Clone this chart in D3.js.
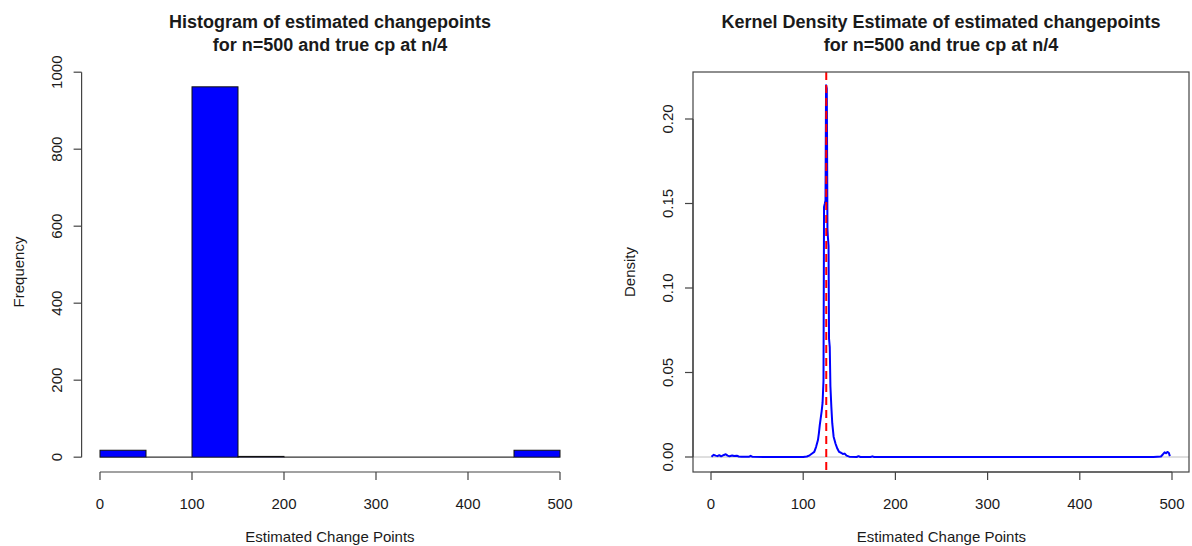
<!DOCTYPE html>
<html>
<head>
<meta charset="utf-8">
<script src="https://cdn.jsdelivr.net/npm/d3@7"></script>
<style>
  html, body { margin: 0; padding: 0; background: #ffffff; }
  svg text { font-family: "Liberation Sans", Arial, Helvetica, sans-serif; fill: #1a1a1a; }
</style>
</head>
<body>
<div id="chart"></div>
<script>
// histogram of estimated change points (bins of width 50)
var histBreaks = [0, 50, 100, 150, 200, 250, 300, 350, 400, 450, 500];
var histCounts = [18, 0, 962, 2, 0, 0, 0, 0, 0, 18];
var histYTicks = [0, 200, 400, 600, 800, 1000];
var xTicks = [0, 100, 200, 300, 400, 500];

// kernel density estimate
var densityX = [0.5, 3, 5, 7, 9, 11, 14, 16, 18, 20, 23, 25, 28, 30, 33, 38, 41, 43, 45, 60, 80, 100,
    104, 107, 110, 112, 114, 116, 117, 118, 119, 120, 121, 122, 122.6, 123.5, 124.2, 124.8, 125.6,
    126.3, 126.8, 127.5, 128, 128.8, 129.5, 130.5, 131.5, 133, 135, 137, 139, 141, 143, 145, 147, 150,
    158, 160, 162, 173, 175, 177, 200, 300, 400, 480, 488, 490, 492, 493.5, 495, 496.5, 497.7];
var densityY = [0.0002, 0.0013, 0.0008, 0.0005, 0.0011, 0.0004, 0.0012, 0.0016, 0.0008, 0.0004, 0.0009, 0.0006, 0.0008, 0.0003, 0.0002, 0.0001, 0.0001, 0.0007, 0.0001, 0, 0, 0,
    0.0003, 0.0010, 0.0022, 0.0030, 0.0060, 0.0100, 0.0140, 0.0190, 0.0230, 0.0270, 0.0320, 0.0450, 0.1480, 0.1500, 0.1520, 0.2200, 0.2180,
    0.1350, 0.1300, 0.1250, 0.0700, 0.0650, 0.0420, 0.0300, 0.0200, 0.0120, 0.0080, 0.0050, 0.0030, 0.0025, 0.0018, 0.0020, 0.0008, 0.0002,
    0, 0.0005, 0, 0, 0.0004, 0, 0, 0, 0, 0, 0.0003, 0.0015, 0.0028, 0.0022, 0.0030, 0.0025, 0.0005];
var densityYTicks = [0, 0.05, 0.10, 0.15, 0.20];
var trueCp = 125;

var width = 1192, height = 546;
var plotTop = 72, plotBottom = 472;
var tickLen = 8;

var svg = d3.select("#chart")
    .append("svg")
    .attr("width", width)
    .attr("height", height);

svg.append("rect").attr("width", width).attr("height", height).attr("fill", "#ffffff");

function drawTitle(cx, lines){
    var t = svg.append("g").attr("class", "title");
    lines.forEach(function(s, i){
        t.append("text")
            .attr("x", cx)
            .attr("y", 28 + i * 23)
            .attr("text-anchor", "middle")
            .style("font-size", "18px")
            .style("font-weight", "bold")
            .text(s);
    });
}

function drawXAxis(xScale, yPos, title){
    var g = svg.append("g").attr("class", "x-axis");
    g.append("line")
        .attr("x1", xScale(xTicks[0])).attr("x2", xScale(xTicks[xTicks.length - 1]))
        .attr("y1", yPos).attr("y2", yPos)
        .attr("stroke", "#444").attr("stroke-width", 1.2);
    g.selectAll(".xt").data(xTicks).enter().append("line")
        .attr("x1", function(d){ return xScale(d); })
        .attr("x2", function(d){ return xScale(d); })
        .attr("y1", yPos).attr("y2", yPos + tickLen)
        .attr("stroke", "#444").attr("stroke-width", 1.2);
    g.selectAll(".xl").data(xTicks).enter().append("text")
        .attr("x", function(d){ return xScale(d); })
        .attr("y", yPos + 37)
        .attr("text-anchor", "middle")
        .style("font-size", "15px")
        .text(function(d){ return d; });
    g.append("text")
        .attr("x", (xScale.range()[0] + xScale.range()[1]) / 2)
        .attr("y", 542)
        .attr("text-anchor", "middle")
        .style("font-size", "15px")
        .text(title);
}

function drawYAxis(yScale, xPos, ticks, fmt, title){
    var g = svg.append("g").attr("class", "y-axis");
    g.append("line")
        .attr("x1", xPos).attr("x2", xPos)
        .attr("y1", yScale(ticks[0])).attr("y2", yScale(ticks[ticks.length - 1]))
        .attr("stroke", "#444").attr("stroke-width", 1.2);
    g.selectAll(".yt").data(ticks).enter().append("line")
        .attr("x1", xPos - tickLen).attr("x2", xPos)
        .attr("y1", function(d){ return yScale(d); })
        .attr("y2", function(d){ return yScale(d); })
        .attr("stroke", "#444").attr("stroke-width", 1.2);
    g.selectAll(".yl").data(ticks).enter().append("text")
        .attr("transform", function(d){ return "translate(" + (xPos - 20) + "," + yScale(d) + ") rotate(-90)"; })
        .attr("text-anchor", "middle")
        .style("font-size", "15px")
        .text(fmt);
    g.append("text")
        .attr("transform", "translate(" + (xPos - 58) + "," + ((plotTop + plotBottom) / 2) + ") rotate(-90)")
        .attr("text-anchor", "middle")
        .style("font-size", "15px")
        .text(title);
}

// ---------- left: histogram ----------
var hx = d3.scaleLinear().domain([-20, 520]).range([81.6, 578.4]);
var hy = d3.scaleLinear().domain([-38.5, 1000.5]).range([plotBottom, plotTop]);

var bins = histCounts.map(function(c, i){ return {x0: histBreaks[i], x1: histBreaks[i + 1], count: c}; });

var rect_group = svg.append("g").attr("class", "rect-group");

rect_group
    .selectAll(".rects")
    .data(bins.filter(function(d){ return d.count > 0; }))
    .enter()
    .append("rect")
    .attr("class", "rects")
    .attr("x", function(d){ return hx(d.x0); })
    .attr("width", function(d){ return hx(d.x1) - hx(d.x0); })
    .attr("y", function(d){ return hy(d.count); })
    .attr("height", function(d){ return hy(0) - hy(d.count); })
    .attr("fill", "#0000ff")
    .attr("stroke", "#111")
    .attr("stroke-width", 1);

// empty bins still show their outline along the baseline
rect_group
    .selectAll(".empty")
    .data(bins.filter(function(d){ return d.count === 0; }))
    .enter()
    .append("line")
    .attr("class", "empty")
    .attr("x1", function(d){ return hx(d.x0); })
    .attr("x2", function(d){ return hx(d.x1); })
    .attr("y1", hy(0)).attr("y2", hy(0))
    .attr("stroke", "#333")
    .attr("stroke-width", 1.2);

drawTitle(330, ["Histogram of estimated changepoints", "for n=500 and true cp at n/4"]);
drawXAxis(hx, plotBottom, "Estimated Change Points");
drawYAxis(hy, 81.6, histYTicks, function(d){ return d; }, "Frequency");

// ---------- right: density ----------
var boxLeft = 693, boxRight = 1189;
var dx = d3.scaleLinear().domain([0, 500]).range([711, 1172]);
var dy = d3.scaleLinear().domain([0, 0.20]).range([457, 119]);

svg.append("defs").append("clipPath").attr("id", "clipR")
    .append("rect").attr("x", boxLeft).attr("y", plotTop)
    .attr("width", boxRight - boxLeft).attr("height", plotBottom - plotTop);

var plotG = svg.append("g").attr("clip-path", "url(#clipR)");

// zero line
plotG.append("line")
    .attr("x1", boxLeft).attr("x2", boxRight)
    .attr("y1", dy(0)).attr("y2", dy(0))
    .attr("stroke", "#bebebe").attr("stroke-width", 1);

var pts = densityX.map(function(x, i){ return [x, densityY[i]]; });
var line = d3.line()
    .x(function(d){ return dx(d[0]); })
    .y(function(d){ return dy(d[1]); });

plotG.append("path")
    .datum(pts)
    .attr("d", line)
    .attr("fill", "none")
    .attr("stroke", "#0000ff")
    .attr("stroke-width", 2)
    .attr("stroke-linejoin", "round");

plotG.append("line")
    .attr("x1", dx(trueCp)).attr("x2", dx(trueCp))
    .attr("y1", plotTop).attr("y2", plotBottom)
    .attr("stroke", "#ff0000")
    .attr("stroke-width", 2)
    .attr("stroke-dasharray", "8,5");

svg.append("rect")
    .attr("x", boxLeft).attr("y", plotTop)
    .attr("width", boxRight - boxLeft).attr("height", plotBottom - plotTop)
    .attr("fill", "none").attr("stroke", "#444").attr("stroke-width", 1.2);

drawTitle(941, ["Kernel Density Estimate of estimated changepoints", "for n=500 and true cp at n/4"]);
drawXAxis(dx, plotBottom, "Estimated Change Points");
drawYAxis(dy, boxLeft, densityYTicks, function(d){ return d.toFixed(2); }, "Density");
</script>
</body>
</html>
